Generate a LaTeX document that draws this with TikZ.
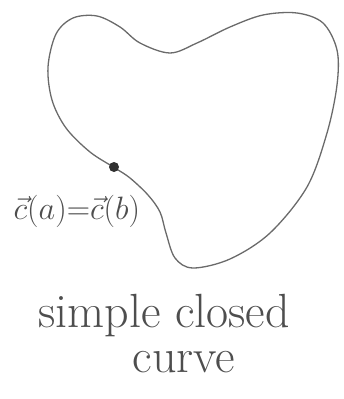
\documentclass[tikz,border=0pt]{standalone}
\usepackage{fontspec}
\usepackage{amsmath,amssymb}
\usepackage{xcolor}
\usetikzlibrary{positioning}
\definecolor{pencil}{HTML}{6A6A6A}
\definecolor{inkc}{HTML}{4E4E4E}
\definecolor{dotc}{HTML}{303030}

\begin{document}
\begin{tikzpicture}[x=1pt,y=-1pt,
  curv/.style={draw=pencil,line width=1.3pt,line join=round},
  lbl/.style={text=inkc,inner sep=0pt},
  pt/.style={circle,fill=dotc,minimum width=8pt,inner sep=0pt},
]
\useasboundingbox (0,0) rectangle (344,399);
% the closed curve
\draw[curv] plot[smooth cycle,tension=0.55] coordinates {
  (115,168) (90,152) (66,128) (52,100) (48,67) (56,34) (73,18)
  (97,16) (120,27) (140,43) (170,53) (197,43) (230,27) (263,15)
  (297,13) (323,23) (337,50) (337,85) (327,133) (307,187)
  (270,233) (230,259) (193,268) (175,258) (166,233) (160,212)
  (148,195) (130,178)};
% start = end point
\node[pt,minimum height=10pt] (ab) at (114,167) {};
\node[lbl,font=\fontsize{24.88}{30}\selectfont,scale=1.3,
      below left=24pt and -30pt of ab] (eq)
  {$\vec{c}(a){=}\vec{c}(b)$};
% caption
\node[lbl,font=\fontsize{48}{54}\selectfont] (cap1) at (164,316) {simple closed};
\node[lbl,font=\fontsize{48}{54}\selectfont,below=14pt of cap1,xshift=20pt] (cap2) {curve};
\end{tikzpicture}
\end{document}
